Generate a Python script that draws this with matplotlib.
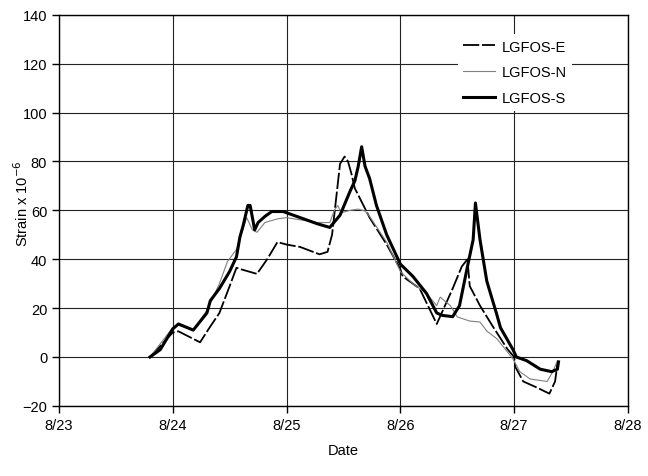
import matplotlib
matplotlib.use("Agg")
import matplotlib.pyplot as plt

plt.rcParams['font.family'] = ['Liberation Sans', 'DejaVu Sans']

# days counted from the start of August (23 = 8/23 0:00)
s_day = [23.80, 23.89, 24.00, 24.05, 24.18, 24.30, 24.33, 24.41, 24.50, 24.56,
         24.59, 24.62, 24.66, 24.68, 24.72, 24.75, 24.81, 24.87, 24.97, 25.12,
         25.27, 25.38, 25.47, 25.56, 25.60, 25.63, 25.66, 25.69, 25.73, 25.79,
         25.88, 26.00, 26.11, 26.23, 26.32, 26.37, 26.46, 26.52, 26.59, 26.64,
         26.66, 26.70, 26.76, 26.85, 26.88, 26.99, 27.02, 27.11, 27.23, 27.33,
         27.38, 27.39]
s_val = [0, 3, 11.5, 13.5, 11, 18, 23, 28, 35, 41,
         49, 54, 62, 62, 52, 55, 57.5, 59.5, 59.5, 57,
         54.5, 53, 58, 68, 72, 78, 86, 78, 73, 62,
         50, 38, 33, 26, 18, 17, 16.5, 21, 37, 48,
         63, 48, 31, 17, 12, 3, 0, -1.5, -5, -6,
         -5, -2]

e_day = [23.80, 24.00, 24.05, 24.24, 24.33, 24.41, 24.50, 24.56, 24.59, 24.74,
         24.83, 24.92, 25.00, 25.12, 25.29, 25.36, 25.40, 25.47, 25.51, 25.54,
         25.57, 25.60, 25.73, 25.88, 26.00, 26.02, 26.17, 26.32, 26.46, 26.54,
         26.59, 26.61, 26.70, 26.81, 26.94, 27.00, 27.01, 27.08, 27.20, 27.31,
         27.36, 27.38]
e_val = [0, 10, 10.5, 6, 12.5, 18, 29, 36.5, 36, 34,
         40, 47, 46, 45, 42, 43, 50, 79, 82, 80,
         75, 69, 57, 46, 36, 33, 28, 13.5, 28, 37,
         40, 29, 21, 12.7, 3.3, 0, -4, -10, -12.5, -15,
         -10, -3]

n_day = [23.80, 24.00, 24.05, 24.18, 24.30, 24.41, 24.48, 24.56, 24.60, 24.65,
         24.70, 24.74, 24.81, 24.92, 25.00, 25.27, 25.38, 25.42, 25.45, 25.48,
         25.56, 25.63, 25.69, 25.73, 25.88, 26.00, 26.11, 26.23, 26.32, 26.35,
         26.37, 26.44, 26.50, 26.61, 26.70, 26.76, 26.85, 26.99, 27.05, 27.14,
         27.29, 27.34, 27.38]
n_val = [0, 12, 13, 11, 19, 30, 39, 44, 50, 57,
         52, 51, 55, 56.5, 57, 55, 55, 60, 62, 59,
         60, 60.5, 59.7, 57.5, 47, 35, 30, 26, 21, 24.5,
         23.7, 21, 16.4, 14.7, 14.3, 10.6, 7.4, -0.8, -6, -9,
         -10, -6, -1.6]

x_ticks = [23, 24, 25, 26, 27, 28]
x_labels = ['8/23', '8/24', '8/25', '8/26', '8/27', '8/28']
y_ticks = list(range(-20, 141, 20))

fig = plt.figure(figsize=(6.48, 4.77), dpi=100)
ax = fig.add_axes([0.091, 0.147, 0.878, 0.82])

ax.plot(e_day, e_val, color='black', lw=1.3, ls=(0, (9, 1.5)), label='LGFOS-E')
ax.plot(n_day, n_val, color='#808080', lw=0.8, label='LGFOS-N')
ax.plot(s_day, s_val, color='black', lw=2.2, label='LGFOS-S')

ax.set_xlim(23, 28)
ax.set_ylim(-20, 140)
ax.set_xticks(x_ticks)
ax.set_xticklabels(x_labels)
ax.set_yticks(y_ticks)
ax.grid(True, color='#222222', lw=0.8)
ax.set_axisbelow(True)
ax.tick_params(direction='out', length=5, width=1, labelsize=10.5, colors='black')
for sp in ax.spines.values():
    sp.set_linewidth(1.0)

ax.set_xlabel('Date', fontsize=10.5, labelpad=8)
ax.set_ylabel('Strain x 10$^{-6}$', fontsize=10.5)
ax.yaxis.set_label_coords(-0.05, 0.52)

leg = ax.legend(loc='upper right', bbox_to_anchor=(0.915, 0.97), frameon=True,
                fontsize=10.5, handlelength=2.2, labelspacing=0.8,
                borderpad=0.4, handletextpad=0.4)
leg.get_frame().set_edgecolor('none')
leg.get_frame().set_facecolor('white')
leg.get_frame().set_alpha(1)

fig.savefig('out.png', dpi=100)
